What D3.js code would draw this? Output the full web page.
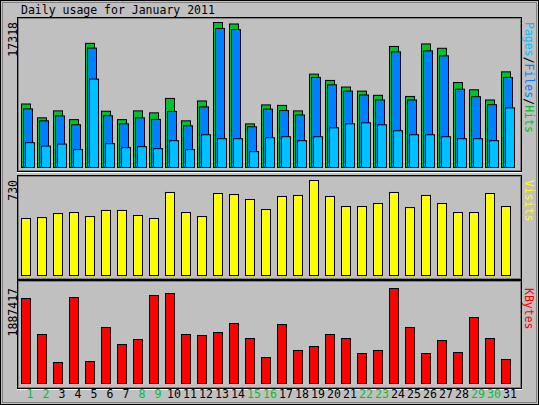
<!DOCTYPE html>
<html><head><meta charset="utf-8">
<script src="https://cdn.jsdelivr.net/npm/d3@7"></script>
<style>body{margin:0;background:#fff}text{font-family:"DejaVu Sans Mono",monospace}</style>
</head><body><svg id="chart" width="539" height="405"></svg>
<script>
const days = d3.range(1, 32);
const weekend = [1, 2, 8, 9, 15, 16, 22, 23, 29, 30];
// values
const hits = [7585, 5931, 6763, 5718, 14829, 6719, 5718, 6763, 6527, 8252, 5575, 7949, 17318, 17140, 5210, 7475,
  7417, 6761, 11152, 10399, 9611, 9121, 8622, 14457, 8487, 14756, 14239, 10148, 9281, 8065, 11424];
const files = [7000, 5574, 6160, 5101, 14259, 6185, 5218, 5931, 5744, 6691, 4985, 7237, 16600, 16472, 4866, 6972,
  6800, 6270, 10754, 9877, 9121, 8660, 8065, 13811, 8065, 13930, 13336, 9347, 8454, 7499, 10754];
const pages = [2965, 2559, 2796, 2135, 10556, 2847, 2372, 2491, 2254, 3203, 2135, 3914, 3440, 3440, 1898, 3559,
  3677, 3203, 3677, 4744, 5219, 5338, 5100, 4389, 3914, 3914, 3677, 3440, 3440, 3203, 7118];
const visits = [438, 445, 476, 484, 453, 500, 500, 461, 438, 638, 484, 453, 630, 622, 584, 507,
  607, 615, 730, 607, 530, 530, 553, 638, 522, 615, 553, 484, 484, 630, 530];
const kbytes = [1688000, 973000, 417000, 1708000, 437000, 1112000, 775000, 874000, 1748000, 1788000, 973000, 953000, 1013000, 1192000, 894000, 516000,
  1172000, 656000, 735000, 973000, 894000, 596000, 656000, 1887417, 1112000, 596000, 854000, 616000, 1311000, 894000, 477000];

const svg = d3.select('#chart');
svg.append('rect').attr('x', 0.5).attr('y', 0.5).attr('width', 538).attr('height', 404)
  .attr('fill', '#c0c0c0').attr('stroke', '#000');
svg.append('rect').attr('x', 2.5).attr('y', 2.5).attr('width', 534).attr('height', 400)
  .attr('fill', 'none').attr('stroke', '#808080');

svg.append('text').attr('x', 21).attr('y', 14).attr('font-size', 11.5).text('Daily usage for January 2011');

const x = d3.scaleBand().domain(days).range([21, 21 + 16 * 31]).padding(0);

function panel(y0, y1) {
  svg.append('rect').attr('x', 17.5).attr('y', y0 + 0.5).attr('width', 504).attr('height', y1 - y0)
    .attr('fill', 'none').attr('stroke', '#000');
  svg.append('rect').attr('x', 18.5).attr('y', y0 + 1.5).attr('width', 502).attr('height', y1 - y0 - 2)
    .attr('fill', 'none').attr('stroke', '#808080');
  svg.append('line').attr('x1', 17).attr('x2', 522).attr('y1', y1 + 1.5).attr('y2', y1 + 1.5).attr('stroke', '#fff');
}

function bars(vals, y, off, w, color) {
  svg.append('g').selectAll('rect').data(vals).join('rect')
    .attr('x', (d, i) => x(days[i]) + off + 0.5)
    .attr('y', d => y(d) + 0.5)
    .attr('width', w)
    .attr('height', d => y(0) - y(d))
    .attr('fill', color).attr('stroke', '#000');
}

function leftLabel(txt, ytop) {
  svg.append('text').attr('transform', `translate(17,${ytop}) rotate(-90)`)
    .attr('text-anchor', 'end').attr('font-size', 11.5).text(txt);
}

// top panel
panel(17, 171);
const yH = d3.scaleLinear().domain([0, d3.max(hits)]).range([167, 22]);
bars(hits, yH, 0, 9, '#00c030');
bars(files, yH, 2, 9, '#0080ff');
bars(pages, yH, 4, 9, '#00c0ff');
leftLabel('17318', 22);

// visits panel
panel(175, 279);
const yV = d3.scaleLinear().domain([0, d3.max(visits)]).range([275, 180]);
bars(visits, yV, 0, 9, '#ffff00');
leftLabel('730', 180);

// kbytes panel
panel(280, 388);
const yK = d3.scaleLinear().domain([0, d3.max(kbytes)]).range([383, 288]);
bars(kbytes, yK, 0, 9, '#ff0000');
leftLabel('1887417', 288);

// right labels
function rightLabel(parts, ytop) {
  const t = svg.append('text').attr('transform', `translate(525,${ytop}) rotate(90)`).attr('font-size', 11.5);
  parts.forEach(p => t.append('tspan').attr('fill', p[1]).text(p[0]));
}
rightLabel([['Pages', '#00c0ff'], ['/', '#000'], ['Files', '#0080ff'], ['/', '#000'], ['Hits', '#00c030']], 22);
rightLabel([['Visits', '#ffff00']], 180);
rightLabel([['KBytes', '#ff0000']], 288);

// day labels
svg.append('g').selectAll('text').data(days).join('text')
  .attr('x', d => x(d) + 9)
  .attr('y', 398)
  .attr('text-anchor', 'middle')
  .attr('font-size', 11.5)
  .attr('fill', d => weekend.includes(d) ? '#00c030' : '#000')
  .text(d => d);
</script></body></html>
